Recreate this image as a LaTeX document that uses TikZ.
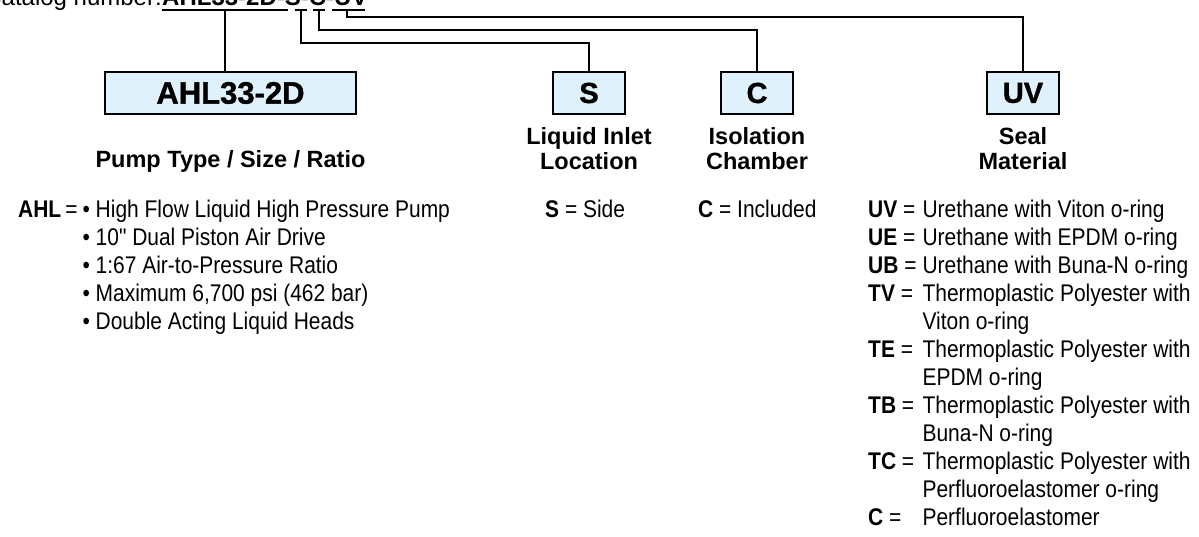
\documentclass[tikz,border=0pt]{standalone}
\usepackage{fontspec}
\setmainfont{Liberation Sans}
\newfontfamily\condfont[FakeStretch=0.87]{Liberation Sans}
\newfontfamily\heavyfont[BoldFeatures={FakeBold=1.2}]{Liberation Sans}
\usetikzlibrary{positioning}

\definecolor{boxblue}{RGB}{223,241,251}

\tikzset{
	codebox/.style={draw, line width=2.2pt, fill=boxblue, minimum height=42pt, minimum width=72pt, inner sep=0pt, font=\heavyfont\fontsize{29}{29}\selectfont\bfseries},
	heading/.style={align=center, inner sep=0pt, font=\fontsize{23.5}{25}\selectfont\bfseries},
	bodytext/.style={anchor=base west, inner sep=0pt, font=\condfont\fontsize{24.1}{28}\selectfont},
	treeline/.style={line width=2pt},
}

\begin{document}
\begin{tikzpicture}[x=1pt,y=-1pt]
		
		\useasboundingbox (0,0) rectangle (1199,537);
		
		\node[anchor=base west, inner sep=0pt, font=\fontsize{24}{24}\selectfont\bfseries] (catnum) at (162,6) {AHL33-2D-S-C-UV};
		\node[anchor=base east, inner sep=0pt, font=\fontsize{24}{24}\selectfont] (catlabel) at (catnum.base west) {Catalog number:\ };
		
		\coordinate (uAHL) at (225,10);
		\coordinate (uS) at (301,10);
		\coordinate (uC) at (319,10);
		\coordinate (uUV) at (347,10);
		
		\draw[treeline] (uAHL) ++(-63,0) -- ++(126,0);
		\draw[treeline] (uS) ++(-6,0) -- ++(12,0);
		\draw[treeline] (uC) ++(-6,0) -- ++(12,0);
		\draw[treeline] (uUV) ++(-15,0) -- ++(33,0);
		
		\node[codebox, minimum width=251pt, font=\heavyfont\fontsize{31}{31}\selectfont\bfseries] (ahl) at (230.5,93) {AHL33-2D};
		\node[codebox] (s) at (589,93) {S};
		\node[codebox] (c) at (757,93) {C};
		\node[codebox] (uv) at (1023,93) {UV};
		
		\coordinate (lvlUV) at (0,17);
		\coordinate (lvlC) at (0,30);
		\coordinate (lvlS) at (0,43);
		
		\draw[treeline] (uAHL) -- (uAHL |- ahl.north);
		\draw[treeline] (uS) |- (s.north |- lvlS) -- (s.north);
		\draw[treeline] (uC) |- (c.north |- lvlC) -- (c.north);
		\draw[treeline] (uUV) |- (uv.north |- lvlUV) -- (uv.north);
		
		\node[heading, anchor=base] (ahlhead) at (230.5,168) {Pump Type / Size / Ratio};
		\node[heading, anchor=north, below=12pt of s] (shead) {Liquid Inlet\\Location};
		\node[heading, anchor=north, below=12pt of c] (chead) {Isolation\\Chamber};
		\node[heading, anchor=north, below=12pt of uv] (uvhead) {Seal\\Material};
		
		\node[bodytext] (ahllist) at (18,218) {\begin{tabular}[t]{@{}l@{\hspace{5pt}}l@{}}
				\textbf{AHL}\,= & \textbullet\ High Flow Liquid High Pressure Pump\\
				& \textbullet\ 10" Dual Piston Air Drive\\
				& \textbullet\ 1:67 Air-to-Pressure Ratio\\
				& \textbullet\ Maximum 6,700 psi (462 bar)\\
				& \textbullet\ Double Acting Liquid Heads
			\end{tabular}};
		
		\node[bodytext] (slist) at (545,218) {\textbf{S} = Side};
		\node[bodytext] (clist) at (698,218) {\textbf{C} = Included};
		
		\node[bodytext] (uvlist) at (868,218) {\begin{tabular}[t]{@{}l@{\hspace{6pt}}l@{}}
				\textbf{UV} = & Urethane with Viton o-ring\\
				\textbf{UE} = & Urethane with EPDM o-ring\\
				\textbf{UB} = & Urethane with Buna-N o-ring\\
				\textbf{TV} = & Thermoplastic Polyester with\\
				& Viton o-ring\\
				\textbf{TE} = & Thermoplastic Polyester with\\
				& EPDM o-ring\\
				\textbf{TB} = & Thermoplastic Polyester with\\
				& Buna-N o-ring\\
				\textbf{TC} = & Thermoplastic Polyester with\\
				& Perfluoroelastomer o-ring\\
				\textbf{C} = & Perfluoroelastomer
			\end{tabular}};
		
\end{tikzpicture}
\end{document}
